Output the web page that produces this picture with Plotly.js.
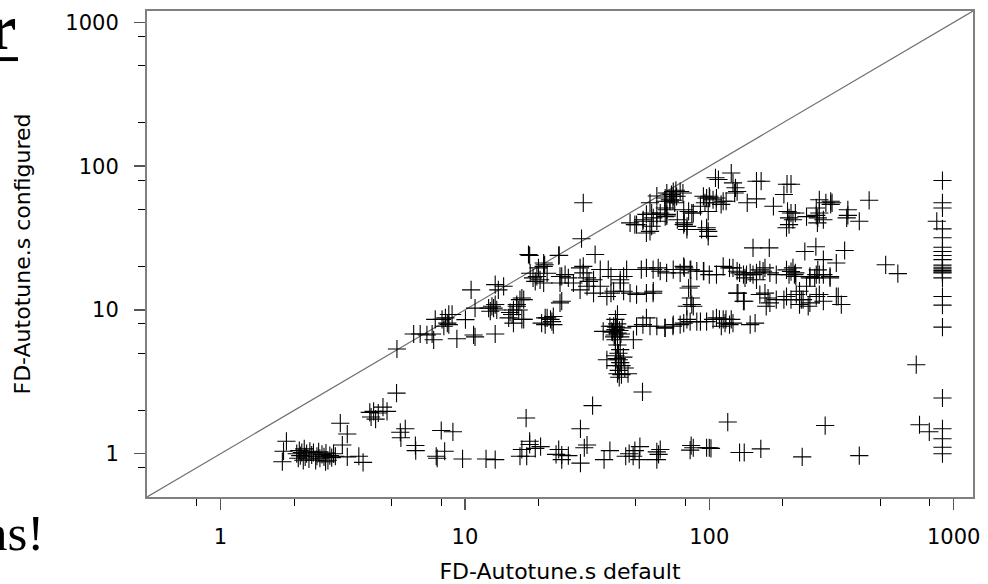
<!DOCTYPE html>
<html>
<head>
<meta charset="utf-8">
<script src="https://cdn.plot.ly/plotly-3.0.1.min.js"></script>
<style>html,body{margin:0;padding:0;background:#fff;}#chart{width:988px;height:584px;}</style>
</head>
<body>
<div id="chart"></div>
<script>
// Bottom row (configured ~1)
const bottomX = [1.86,1.79,1.81,2.05,2.08,2.1,2.12,2.15,2.18,2.2,2.22,2.25,2.3,2.32,2.36,2.4,2.45,2.48,2.52,2.55,2.6,2.65,2.69,2.7,2.75,2.8,2.85,2.9,2.95,
  3.09,3.3,3.15,3.3,3.68,3.83,4.08,4.23,4.42,4.13,4.31,4.62,4.8,5.25,5.44,5.7,5.47,6.27,6.29,7.63,7.7,8.0,8.93,8.26,9.78,12.2,13.3,
  17.8,16.8,17.9,17.1,18.4,19.4,20.4,18.4,23.6,24.9,24.9,24.2,26.5,29.7,29.7,31.6,30.8,33.3,37.1,39.2,45.5,48.8,49.6,52.0,51.7,47,53.3,
  61,62,61,63,84.3,83.5,86,97.5,100,101.6,119,133,139,162.5,240,298,411,725,795,900,900,900,900,900];
const bottomY = [1.22,0.88,1.04,1.0,0.93,1.05,0.97,1.02,0.9,1.08,0.95,1.0,0.92,1.04,0.98,1.02,0.9,0.96,1.03,0.93,0.99,0.95,0.88,1.01,0.9,0.97,0.94,1.0,0.96,
  1.63,1.37,1.15,0.95,0.96,0.87,1.94,1.97,1.92,1.8,1.74,2.11,1.97,2.64,1.41,1.49,1.29,1.14,1.05,0.96,0.93,1.45,1.42,1.04,0.92,0.92,0.91,
  1.77,0.96,0.96,1.07,1.16,1.09,1.12,1.22,0.99,0.98,0.91,1.07,0.97,1.49,0.86,1.15,1.1,2.16,0.91,1.05,0.96,0.96,1.05,1.12,0.91,1.0,2.69,
  1.03,0.99,0.91,1.07,1.14,1.06,1.1,1.1,1.1,1.09,1.66,1.02,1.02,1.08,0.95,1.57,0.97,1.59,1.42,2.44,1.49,1.27,1.11,1.0];

// Right-hand column (default at timeout ~900) and stragglers
const rightX = [900,900,900,900,900,900,900,900,900,900,900,900,900,900,900,900,900,900,900,853,703,527,591,451];
const rightY = [79.4,55.6,51.2,36.6,31.8,27.3,25.5,23.9,22.4,20.5,19.8,19.3,18.8,18.4,18.1,16.7,12.4,10.8,7.6,41.4,4.16,20.6,17.9,57.9];

// Upper band (configured 30-90)
const upperX = [47.4,49.6,53.6,57.2,58.1,59,61,63,65.8,67,55.3,57.2,67,70,71.2,73.5,76,69,72.2,65.8,78.6,78.6,81.1,82.3,84.8,
  93,97.5,99,99,94.6,97.5,100.4,103.6,106.8,111.8,117.2,106,109,123,125,128,130,127,96,99,156,163,208,216,202,143,156,183,114,
  209,216,220,207,212,225,250,212,274,282,300,314,314,278,293,274,318,282,277,369,369,365,411,
  53.5,50.4,55.3,58.1,61,66,67,69,71.2,61,66,71,73,78,67,74,79,81,86,92,100,107,97.5,30.5,30,34.1,24.3];
const upperY = [40.3,39.2,42.4,55.6,47.2,43.7,46.2,47.2,51.2,46.2,46.2,35.2,65,63.5,66.6,61.7,66.6,57,55.6,57,49.7,39.2,38.1,48.4,47.2,
  36.3,37.3,35.2,32.5,61.7,60,60,58.4,55.6,54.2,57,83,80.7,89.6,76.5,70.7,66.6,65,55.6,48.4,78.6,78.6,74.9,74.9,63.5,55.6,59.2,52.6,57,
  48.4,47.2,42.4,37.3,43.7,47.2,44.6,39.2,51.2,58.4,55.6,54.2,57,43.7,42.4,45.5,55.6,47.2,40.3,49.7,45.5,43.7,41.4,
  41.4,39.2,34.3,38.2,41.4,44.6,49.7,58.4,61.7,62,60,58,68,65,45,42.4,40.3,36.3,47.2,52.6,61.7,60,36.3,55.6,31.3,24.3,24];

// Middle band (configured 10-28)
const middleX = [18.2,18.4,24.2,21,21.2,18.5,19,19.4,19.7,20.3,21,21.7,20,21,24.9,25.7,26.5,24.5,29.6,30.5,31.6,33.6,35.8,38.6,39.6,43.2,45.9,44.6,43.2,39.6,38.1,35.8,29.6,32.2,
  30.5,24.5,27.8,31.6,33.6,40.6,44.6,47.4,50.4,55.3,58.9,24.5,52.7,55.3,58.9,61.8,66.9,71.2,63,78.6,83.5,88.9,94.6,107,114,130,82.3,84.8,80.9,
  76,79,84,95,100,121,130,138,147,156,166,177,188,212,225,258,274,293,312,125,133,142,151,161,169,140,156,207,216,223,226,220,258,270,282,278,312,
  151,176,246,273,293,358,331,138,161,174,177,171,188,207,216,227,234,238,234,254,282,293,337,347,250,59,84,84,86,131,139,169,202,242,258,274,331];
const middleY = [24.3,23.9,23.9,21.2,20.6,18,16.7,15.8,17.1,16.2,15.4,18,19.6,20.1,17.1,17.6,16.7,15.4,19.6,18.1,16.7,16.2,19.1,19.1,17.1,16.2,19.1,17.1,15.4,13.1,12.4,14.6,13.8,15.8,
  20.1,17.1,15.4,14.6,13.1,13.5,13.5,13.1,12.8,13.1,13.1,11.2,19.1,19.6,19.1,19.6,18.1,19.1,18.6,20.1,19,18.6,18.6,17.6,20.1,13.1,14.2,10.9,10.6,
  18.1,19.6,19.1,18.6,17.6,19.6,18.6,17.6,18.1,18.1,18.6,18.1,17.6,17.6,18.1,17.1,17.6,17.6,17.1,19.6,18.1,17.6,17.6,19,19.6,16.7,16.2,19,18.5,17.6,17.1,19.6,16.7,16.7,17.6,19,16.7,
  27,27,25.5,27.5,22.4,25.9,21.2,11.5,12.8,12.1,11.2,10.6,11.8,12.4,11.8,12.8,13.5,11.8,10.9,10.6,12.8,11.5,12.4,10.9,14.6,13.5,14.6,12.1,10.6,13.1,11.5,13.1,11.8,11.8,11.2,12.4,12.4];

// Lower band (configured ~8) and the vertical cluster near default 40-47
const lowerX = [110,116,121,123,147,154,57.2,61,66,71,76,78.6,83.5,92,97.5,107,114,50.4,53.5,55.3,65.8,71.2,81,88.9,103.6,117,125,112,
  21.7,22.7,23,21.3,22.4,23,24.9,17.1,15.8,15.3,16.3,17.4,21.3,20.6,
  42.1,41.3,39.2,41.3,39.9,42.1,43.2,41.3,42.1,43.2,38.1,41.3,42.6,43.2,41.3,42.6,43.7,42.1,45.1,46.5,43.7,48.9,36.8,40.6,42,41,44,42.5,41.8,44.5,42.8,40.2,43.5,41.6,42.9,40.8];
const lowerY = [8.6,8.1,7.9,8.6,7.9,8.1,7.7,7.7,7.5,7.7,7.9,8.1,8.3,8.3,8.3,8.8,8.6,7.69,7.9,8.8,7.5,7.9,8.6,8.3,8.6,8.6,8.1,7.7,
  8.8,8.3,7.9,7.9,8.6,9.0,11.5,8.6,8.1,9.6,10.6,11.8,8.8,8.1,
  9.3,8.6,7.7,7.3,7.1,6.9,6.5,6.2,5.7,5.3,4.5,4.8,4.5,4.3,4.1,3.8,4.1,3.6,3.95,3.6,3.55,6.2,7.1,7.69,8.0,6.7,7.5,5.0,4.6,4.7,3.4,7.0,6.8,7.6,7.2,6.5];

// Points just under the diagonal at small defaults
const diagonalX = [5.27,6.17,6.56,6.99,7.45,7.34,7.56,8.06,8.32,8.59,8.47,8.2,8.59,8.86,9.27,10.85,11.0,13.3,10.05,11.0,10.6,12.5,12.9,13.1,13.3,13.5,12.7,13.7,14.4,13.3,15.1,15.6,15.8,16.3,16.8,17.1,17.4,16.6];
const diagonalY = [5.35,6.8,6.8,6.7,6.2,6.8,8.6,8.6,8.8,9.3,8.1,7.7,7.9,9.3,6.3,6.7,6.5,6.8,8.56,10.3,13.8,10.3,10.6,10.3,10.9,10.0,9.8,13.8,14.6,15.0,8.8,9.3,10.0,10.9,11.8,12.1,8.6,10.0];

// y = x reference line end points (axis extent)
const identityLine = [0.5, 1200];
const tickValues = [1, 10, 100, 1000];
const tickLabels = ['1', '10', '100', '1000'];
const minorTickValues = [0.8, 2, 5, 8, 20, 50, 80, 200, 500, 800];

const xs = [].concat(bottomX, rightX, upperX, middleX, lowerX, diagonalX);
const ys = [].concat(bottomY, rightY, upperY, middleY, lowerY, diagonalY);

const traces = [
  {x: identityLine, y: identityLine, mode: 'lines', type: 'scatter',
   line: {color: '#6e6e6e', width: 1.2}, hoverinfo: 'skip', showlegend: false},
  {x: xs, y: ys, mode: 'markers', type: 'scatter', showlegend: false,
   marker: {symbol: 'cross-thin-open', size: 13, color: '#000', line: {color: '#000', width: 1.1}}}
];

function axis(title) {
  return {
    type: 'log',
    range: [Math.log10(0.5), Math.log10(1200)],
    tickmode: 'array', tickvals: tickValues, ticktext: tickLabels,
    ticks: 'outside', ticklen: 11, tickwidth: 1.5, tickcolor: '#555',
    tickfont: {family: 'DejaVu Sans', size: 21, color: '#000'},
    minor: {tickmode: 'array', tickvals: minorTickValues, ticks: 'outside', ticklen: 7, tickwidth: 1, tickcolor: '#000', showgrid: false},
    showgrid: false, zeroline: false,
    showline: true, linecolor: '#808080', linewidth: 2, mirror: true,
    title: {text: title, font: {family: 'DejaVu Sans', size: 22, color: '#000'}}
  };
}

const xa = axis('FD-Autotune.s default');
xa.ticklabelstandoff = 9;
xa.title.standoff = 16;
const ya = axis('FD-Autotune.s configured');
ya.ticklabelstandoff = 11;
ya.title.standoff = 29;

const layout = {
  width: 988, height: 584,
  margin: {l: 147, r: 15, t: 11, b: 87},
  paper_bgcolor: '#fff', plot_bgcolor: '#fff',
  font: {family: 'DejaVu Sans', color: '#000'},
  xaxis: xa, yaxis: ya,
  annotations: [
    {text: '<b>r</b>', xref: 'paper', yref: 'paper', x: -0.1562, y: 0.967, xanchor: 'right', yanchor: 'middle',
     showarrow: false, font: {family: 'Liberation Serif', size: 64, color: '#000'}},
    {text: 'ns!', xref: 'paper', yref: 'paper', x: -0.1223, y: -0.074, xanchor: 'right', yanchor: 'middle',
     showarrow: false, font: {family: 'Liberation Serif', size: 51, color: '#000'}}
  ],
  shapes: [
    {type: 'rect', xref: 'paper', yref: 'paper', x0: -0.18, x1: -0.1562, y0: 0.897, y1: 0.905,
     fillcolor: '#000', line: {width: 0}}
  ]
};

Plotly.newPlot('chart', traces, layout, {staticPlot: true, displayModeBar: false});
</script>
</body>
</html>
